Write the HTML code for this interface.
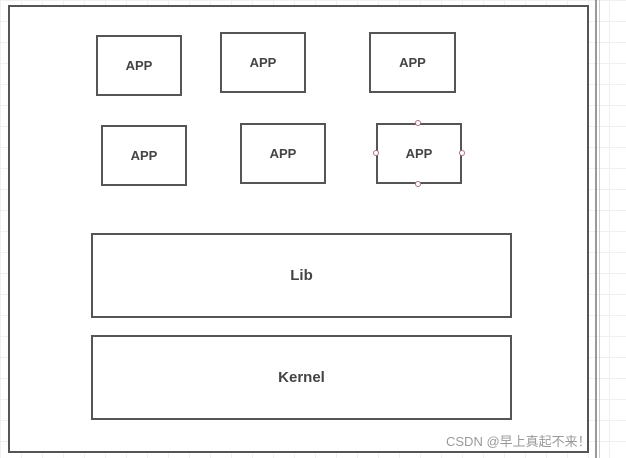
<!DOCTYPE html>
<html><head><style>
html,body{margin:0;padding:0;width:626px;height:458px;overflow:hidden;
background-color:#fff;
background-image:linear-gradient(#f0f0f0 1px,transparent 1px),linear-gradient(90deg,#f0f0f0 1px,transparent 1px);
background-size:21px 21px;}
.b{position:absolute;box-sizing:border-box;border:2px solid #555;background:#fff;
display:flex;align-items:center;justify-content:center;
font-family:"Liberation Sans",sans-serif;font-weight:bold;color:#444;font-size:13px;}
.h{position:absolute;width:6px;height:6px;border:1px solid #b07080;border-radius:50%;background:#fff;box-sizing:border-box;}
</style></head><body>
<div class="b" style="left:8px;top:5px;width:581px;height:448px;"></div>
<div style="position:absolute;left:595px;top:0;width:2px;height:458px;background:#999"></div>
<div style="position:absolute;left:599px;top:0;width:1px;height:458px;background:#ccc"></div>
<div class="b" style="left:96px;top:35px;width:86px;height:61px;">APP</div>
<div class="b" style="left:220px;top:32px;width:86px;height:61px;">APP</div>
<div class="b" style="left:369px;top:32px;width:87px;height:61px;">APP</div>
<div class="b" style="left:101px;top:125px;width:86px;height:61px;">APP</div>
<div class="b" style="left:240px;top:123px;width:86px;height:61px;">APP</div>
<div class="b" style="left:376px;top:123px;width:86px;height:61px;">APP</div>
<div class="h" style="left:415px;top:120px"></div>
<div class="h" style="left:415px;top:181px"></div>
<div class="h" style="left:373px;top:150px"></div>
<div class="h" style="left:459px;top:150px"></div>
<div class="b" style="left:91px;top:233px;width:421px;height:85px;font-size:15px;">Lib</div>
<div class="b" style="left:91px;top:335px;width:421px;height:85px;font-size:15px;">Kernel</div>
<div style="position:absolute;left:446px;top:431px;font-family:'Liberation Sans','Noto Sans CJK SC',sans-serif;font-size:13px;color:#999;white-space:nowrap">CSDN @早上真起不来！</div>
</body></html>
